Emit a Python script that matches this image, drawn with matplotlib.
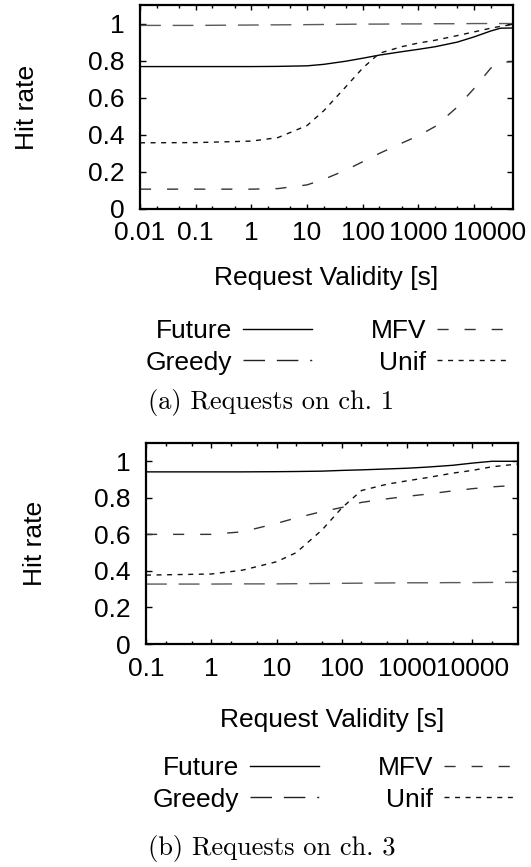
import matplotlib
matplotlib.use("Agg")
import matplotlib.pyplot as plt
from matplotlib.lines import Line2D
from matplotlib.transforms import ScaledTranslation

plt.rcParams["font.family"] = ["Liberation Sans", "DejaVu Sans"]
plt.rcParams["lines.scale_dashes"] = False

# ch. 1 results
x_ch1 = [0.01, 0.1, 1, 3, 10, 20, 50, 100, 200, 500, 1000, 2000, 5000, 10000, 20000, 30000, 50000]
future_ch1 = [0.768, 0.768, 0.768, 0.769, 0.772, 0.78, 0.797, 0.813, 0.83, 0.848, 0.861, 0.875, 0.9, 0.928, 0.96, 0.975, 0.976]
greedy_ch1 = [0.99, 0.99, 0.992, 0.993, 0.994, 0.995, 0.996, 0.997, 0.997, 0.998, 0.998, 0.999, 0.999, 1.0, 1.0, 1.0, 1.0]
mfv_ch1 = [0.107, 0.107, 0.107, 0.11, 0.13, 0.16, 0.21, 0.255, 0.3, 0.355, 0.395, 0.445, 0.55, 0.65, 0.76, 0.79, 0.795]
unif_ch1 = [0.357, 0.358, 0.366, 0.385, 0.45, 0.53, 0.66, 0.76, 0.84, 0.875, 0.895, 0.91, 0.935, 0.955, 0.975, 0.985, 0.995]

# ch. 3 results
x_ch3 = [0.1, 1, 3, 10, 20, 50, 100, 200, 500, 1000, 2000, 5000, 10000, 20000, 50000]
future_ch3 = [0.942, 0.942, 0.942, 0.943, 0.944, 0.946, 0.95, 0.953, 0.958, 0.962, 0.968, 0.978, 0.99, 1.0, 1.0]
greedy_ch3 = [0.328, 0.328, 0.329, 0.329, 0.33, 0.331, 0.332, 0.333, 0.334, 0.335, 0.335, 0.336, 0.336, 0.337, 0.337]
mfv_ch3 = [0.6, 0.6, 0.614, 0.66, 0.69, 0.725, 0.747, 0.775, 0.795, 0.808, 0.82, 0.838, 0.85, 0.86, 0.869]
unif_ch3 = [0.377, 0.383, 0.404, 0.45, 0.5, 0.625, 0.745, 0.84, 0.875, 0.893, 0.91, 0.935, 0.95, 0.97, 0.985]

xticks_ch1 = [0.01, 0.1, 1, 10, 100, 1000, 10000]
xticklabels_ch1 = ["0.01", "0.1", "1", "10", "100", "1000", "10000"]
xticks_ch3 = [0.1, 1, 10, 100, 1000, 10000]
xticklabels_ch3 = ["0.1", "1", "10", "100", "1000", "10000"]
yticks = [0, 0.2, 0.4, 0.6, 0.8, 1]
yticklabels = ["0", "0.2", "0.4", "0.6", "0.8", "1"]

names = ["Future", "Greedy", "MFV", "Unif"]
styles = {
    "Future": dict(color="black", linestyle="-"),
    "Greedy": dict(color="#5a5a5a", linestyle=(0, (15, 8.5))),
    "MFV": dict(color="#333333", linestyle=(0, (8, 11.5))),
    "Unif": dict(color="#111111", linestyle=(0, (3.6, 4))),
}
# key samples (the long-dash key ends with a dot)
key_styles = dict(styles)
key_styles["Greedy"] = dict(color="#222222", linestyle=(0, (15.5, 8.5, 15.5, 8.5, 1.5, 30)))

FS = 19
W, H = 531, 867


def panel(rect, x, series, xticks, xticklabels, xmin, xlabel_y, ylabel_x,
          legend_xy, caption, caption_xy, last_label_shift=0):
    l, t, r, b = rect
    w, h = r - l, b - t
    ax = fig.add_axes([l / W, 1 - b / H, w / W, h / H])
    for name, y in zip(names, series):
        ax.plot(x, y, lw=1.0, **styles[name])
    ax.set_xscale("log")
    ax.set_xlim(xmin, 50000)
    ax.set_ylim(0, 1.1)
    ax.set_xticks(xticks)
    ax.set_xticklabels(xticklabels)
    ax.set_xticks([d * m for d in xticks for m in (2, 5) if d * m < 50000], minor=True)
    ax.set_yticks(yticks)
    ax.set_yticklabels(yticklabels)
    ax.tick_params(which="both", direction="in", top=True, right=True, labelsize=FS, width=1.0)
    ax.tick_params(axis="x", which="major", length=3.5, pad=9)
    ax.tick_params(axis="x", which="minor", length=2)
    ax.tick_params(axis="y", which="major", length=4, pad=11)
    for s in ax.spines.values():
        s.set_linewidth(1.6)
    if last_label_shift:
        lab = ax.get_xticklabels()[-1]
        lab.set_transform(lab.get_transform() + ScaledTranslation(last_label_shift / 100, 0, fig.dpi_scale_trans))

    ax.set_xlabel("Request Validity [s]", fontsize=FS)
    ax.xaxis.label.set_va("center")
    ax.set_ylabel("Hit rate", fontsize=FS)
    ax.yaxis.label.set_va("center")
    ax.xaxis.set_label_coords(0.5, -(xlabel_y - b) / h)
    ax.yaxis.set_label_coords(-(l - ylabel_x) / w, 0.5)

    handles = [Line2D([], [], lw=1.0, **key_styles[n]) for n in names]
    ax.legend(handles, names, ncol=2, markerfirst=False, frameon=False, fontsize=FS,
              loc="center", bbox_to_anchor=((legend_xy[0] - l) / w, (b - legend_xy[1]) / h),
              handlelength=2.65, handletextpad=0.4, columnspacing=2.2, labelspacing=0.28,
              borderpad=0)

    fig.text(caption_xy[0] / W, 1 - caption_xy[1] / H, caption, family="cmr10",
             fontsize=FS, ha="center", va="center")
    return ax


fig = plt.figure(figsize=(W / 100, H / 100), dpi=100)

panel((140, 5, 513, 209), x_ch1, [future_ch1, greedy_ch1, mfv_ch1, unif_ch1],
      xticks_ch1, xticklabels_ch1, 0.01, 278, 27, (326, 347),
      "(a) Requests on ch. 1", (271, 402), last_label_shift=15)
panel((146, 443, 518, 644), x_ch3, [future_ch3, greedy_ch3, mfv_ch3, unif_ch3],
      xticks_ch3, xticklabels_ch3, 0.1, 720, 35, (333, 784),
      "(b) Requests on ch. 3", (272, 848))

fig.savefig("out.png", dpi=100)
